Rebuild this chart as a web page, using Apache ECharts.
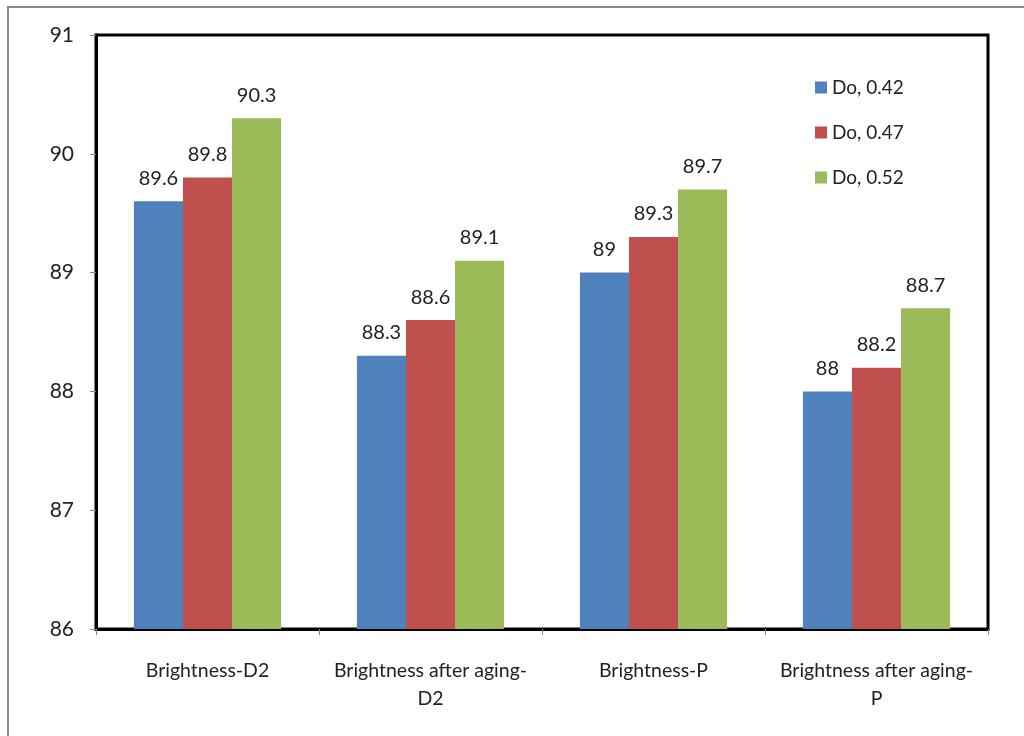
<!DOCTYPE html>
<html><head><meta charset="utf-8">
<script src="https://cdn.jsdelivr.net/npm/echarts@6/dist/echarts.min.js"></script>
<style>html,body{margin:0;padding:0;background:#fff}#c{width:1024px;height:736px}</style>
</head><body><div id="c"></div>
<script>
const categories = ["Brightness-D2", "Brightness after aging-D2", "Brightness-P", "Brightness after aging-P"];
const seriesNames = ["Do, 0.42", "Do, 0.47", "Do, 0.52"];
const do042 = [89.6, 88.3, 89.0, 88.0];
const do047 = [89.8, 88.6, 89.3, 88.2];
const do052 = [90.3, 89.1, 89.7, 88.7];
const colors = ["#4F81BD", "#C0504D", "#9BBB59"];
const font = "Lato, 'Open Sans', sans-serif";
const chart = echarts.init(document.getElementById('c'));
const mk = (name, data, color) => ({
  name, type: 'bar', data, barGap: '0%', barCategoryGap: '34%',
  itemStyle: { color },
  label: { show: true, position: 'top', distance: 13, color: '#222', fontFamily: font, fontSize: 20 }
});
chart.setOption({
  animation: false,
  backgroundColor: '#fff',
  graphic: [{ type: 'rect', shape: { x: 8, y: 7, width: 1040, height: 760 }, style: { fill: 'none', stroke: '#8a8a8a', lineWidth: 2 }, z: -1 }],
  grid: { left: 96, top: 35, right: 36, bottom: 107, show: true, borderColor: '#000', borderWidth: 3, backgroundColor: 'transparent' },
  legend: {
    orient: 'vertical', left: 810, top: 73, itemWidth: 12, itemHeight: 12, itemGap: 26,
    icon: 'rect', textStyle: { fontFamily: font, fontSize: 19, color: '#222', padding: [0, 0, 0, 0] },
    data: seriesNames
  },
  xAxis: {
    type: 'category', data: categories,
    axisLine: { show: true, lineStyle: { color: '#000', width: 3 } },
    axisTick: { show: true, length: 6, lineStyle: { color: '#888' } },
    axisLabel: { interval: 0, margin: 28, color: '#222', fontFamily: font, fontSize: 19.5, lineHeight: 28,
      formatter: v => v.replace('aging-', 'aging-\n') }
  },
  yAxis: {
    type: 'value', min: 86, max: 91, interval: 1,
    axisLine: { show: true, lineStyle: { color: '#000', width: 3 } },
    axisTick: { show: true, length: 6, lineStyle: { color: '#888' } },
    splitLine: { show: false },
    axisLabel: { margin: 22, color: '#222', fontFamily: font, fontSize: 21 }
  },
  series: [mk(seriesNames[0], do042, colors[0]), mk(seriesNames[1], do047, colors[1]), mk(seriesNames[2], do052, colors[2])]
});
</script></body></html>
